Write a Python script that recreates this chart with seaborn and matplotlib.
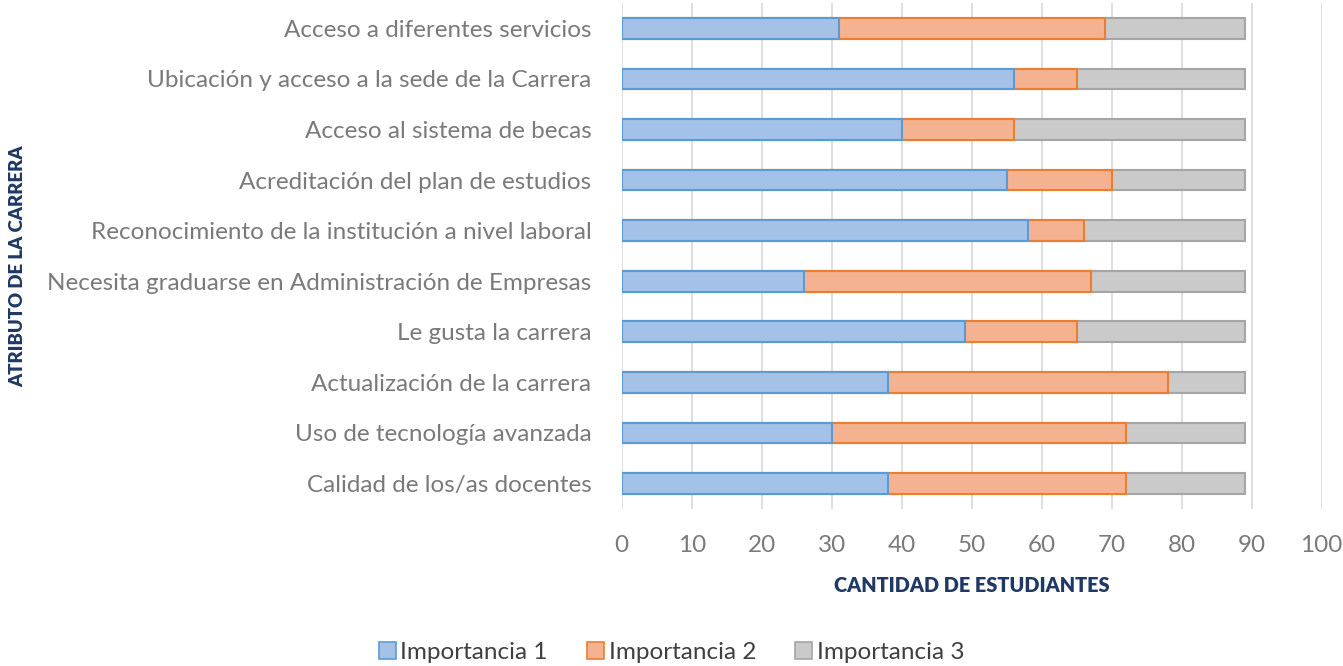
import matplotlib
matplotlib.use("Agg")
import matplotlib.pyplot as plt
import seaborn as sns
import pandas as pd
from matplotlib.patches import Patch

# datos
atributos = [
    "Acceso a diferentes servicios",
    "Ubicación y acceso a la sede de la Carrera",
    "Acceso al sistema de becas",
    "Acreditación del plan de estudios",
    "Reconocimiento de la institución a nivel laboral",
    "Necesita graduarse en Administración de Empresas",
    "Le gusta la carrera",
    "Actualización de la carrera",
    "Uso de tecnología avanzada",
    "Calidad de los/as docentes",
]
imp1 = [31, 56, 40, 55, 58, 26, 49, 38, 30, 38]
imp2 = [38, 9, 16, 15, 8, 41, 16, 40, 42, 34]
imp3 = [20, 24, 33, 19, 23, 22, 24, 11, 17, 17]
series = ["Importancia 1", "Importancia 2", "Importancia 3"]

fill = ["#A4C2E8", "#F5B290", "#CACACA"]
edge = ["#5B9BD5", "#ED7D31", "#A5A5A5"]

df = pd.DataFrame({"atributo": atributos, "i1": imp1, "i2": imp2, "i3": imp3})
df["c1"] = df["i1"]
df["c2"] = df["i1"] + df["i2"]
df["c3"] = df["c2"] + df["i3"]

sns.set_style("white")
plt.rcParams["font.family"] = ["Lato", "DejaVu Sans"]

fig = plt.figure(figsize=(13.43, 6.66), dpi=100)
ax = fig.add_axes([0.463, 0.236, 0.521, 0.7595])

# barras apiladas: se dibuja el total primero y luego encima
for col, fc, ec in zip(["c3", "c2", "c1"], fill[::-1], edge[::-1]):
    sns.barplot(data=df, x=col, y="atributo", orient="h", color=fc,
                edgecolor=ec, linewidth=1.5, width=0.41, saturation=1,
                ax=ax, zorder=3)

ax.set_xlim(0, 100)
ax.set_xticks(range(0, 101, 10))
ax.grid(axis="x", color="#D9D9D9", linewidth=1.2, zorder=0)
ax.set_axisbelow(True)
for s in ax.spines.values():
    s.set_visible(False)
ax.tick_params(axis="both", length=0, labelsize=17.5, colors="#7A7A7A")
ax.tick_params(axis="x", pad=19)
ax.tick_params(axis="y", pad=22)

ax.set_xlabel("CANTIDAD DE ESTUDIANTES", fontsize=14.3, fontweight="heavy",
              color="#203864", labelpad=14)
ax.set_ylabel("")
fig.text(0.013, 0.6, "ATRIBUTO DE LA CARRERA", rotation=90, fontsize=13.4,
         fontweight="heavy", color="#203864", ha="center", va="center")

handles = [Patch(facecolor=f, edgecolor=e, linewidth=1.2, label=l)
           for f, e, l in zip(fill, edge, series)]
fig.legend(handles=handles, loc="center", bbox_to_anchor=(0.5, 0.021), ncol=3,
           frameon=False, fontsize=17.5, handlelength=0.7, handleheight=0.7,
           handletextpad=0.2, columnspacing=1.6, labelcolor="#404040")

fig.savefig("out.png", dpi=100)
